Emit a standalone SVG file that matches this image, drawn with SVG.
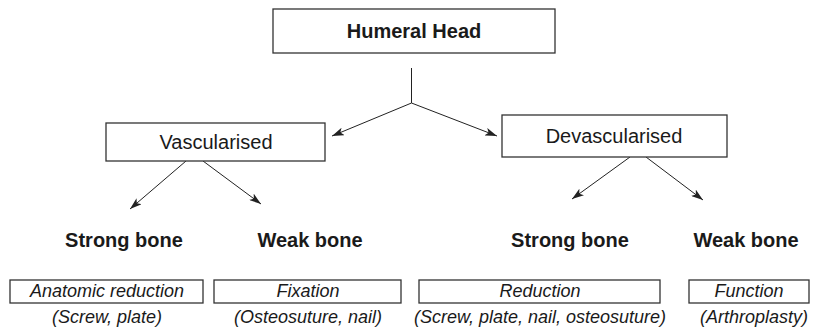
<svg xmlns="http://www.w3.org/2000/svg" width="816" height="335" viewBox="0 0 816 335">
<defs>
<style>
text{font-family:"Liberation Sans",Arial,Helvetica,sans-serif;fill:#1a1a1a;text-anchor:middle}
.box{fill:#fff;stroke:#333;stroke-width:1.3}
.b{font-weight:bold;font-size:20px}
.r{font-size:20px}
.i{font-style:italic;font-size:18px}
.c{stroke:#222;stroke-width:1;fill:none}
</style>
<marker id="ah" markerUnits="userSpaceOnUse" markerWidth="12" markerHeight="8" viewBox="0 0 12 8" refX="12" refY="4" orient="auto">
<path d="M0,0 L12,4 L0,8 L3,4 z" fill="#222"/>
</marker>
</defs>
<rect width="816" height="335" fill="#fff"/>
<g id="connectors">
<path class="c" d="M411.5,68 V103"/>
<path class="c" d="M411.5,103 L332,136" marker-end="url(#ah)"/>
<path class="c" d="M411.5,103 L497,136" marker-end="url(#ah)"/>
<path class="c" d="M186,161 L130,209" marker-end="url(#ah)"/>
<path class="c" d="M203,161 L261,204" marker-end="url(#ah)"/>
<path class="c" d="M630,157 L572,199" marker-end="url(#ah)"/>
<path class="c" d="M646,157 L703,200" marker-end="url(#ah)"/>
</g>
<g id="humeral-head">
<rect class="box" x="273" y="9" width="282" height="44"/>
<text class="b" x="414" y="38">Humeral Head</text>
</g>
<g id="vascularised">
<rect class="box" x="106" y="123" width="219" height="38"/>
<text class="r" x="216" y="149">Vascularised</text>
</g>
<g id="devascularised">
<rect class="box" x="502" y="115" width="225" height="42"/>
<text class="r" x="614" y="143">Devascularised</text>
</g>
<g id="strong-bone-1"><text class="b" x="124" y="247">Strong bone</text></g>
<g id="weak-bone-1"><text class="b" x="310" y="247">Weak bone</text></g>
<g id="strong-bone-2"><text class="b" x="570" y="247">Strong bone</text></g>
<g id="weak-bone-2"><text class="b" x="746" y="247">Weak bone</text></g>
<g id="anatomic-reduction">
<rect class="box" x="10" y="280" width="193" height="23"/>
<text class="i" x="107" y="297">Anatomic reduction</text>
<text class="i" x="107" y="323">(Screw, plate)</text>
</g>
<g id="fixation">
<rect class="box" x="214" y="280" width="187" height="23"/>
<text class="i" x="308" y="297">Fixation</text>
<text class="i" x="308" y="323">(Osteosuture, nail)</text>
</g>
<g id="reduction">
<rect class="box" x="419" y="280" width="241" height="23"/>
<text class="i" x="540" y="297">Reduction</text>
<text class="i" x="540" y="323">(Screw, plate, nail, osteosuture)</text>
</g>
<g id="function">
<rect class="box" x="689" y="280" width="120" height="23"/>
<text class="i" x="749" y="297">Function</text>
<text class="i" x="754" y="323">(Arthroplasty)</text>
</g>
</svg>
